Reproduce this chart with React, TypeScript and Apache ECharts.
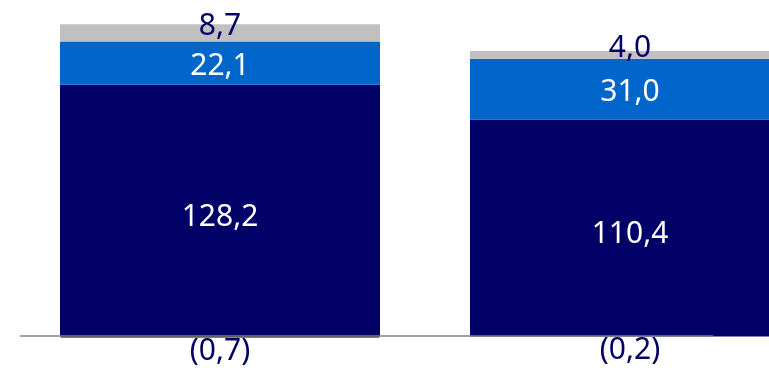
import React, { useEffect, useRef } from "react";
import * as echarts from "echarts";

const categories = ["Periodo 1", "Periodo 2"];
const baseValues = [128.2, 110.4];
const middleValues = [22.1, 31.0];
const topValues = [8.7, 4.0];
const negativeValues = [-0.7, -0.2];

const NAVY = "#000066";
const BLUE = "#0066CC";
const GREY = "#C0C0C0";
const FONT = "'Noto Sans', 'Open Sans', sans-serif";

const fmt = (v: number) => v.toFixed(1).replace(".", ",");

export default function App() {
  const ref = useRef<HTMLDivElement>(null);
  useEffect(() => {
    if (!ref.current) return;
    const chart = echarts.init(ref.current, undefined, { renderer: "svg" });
    const labelBase = { fontFamily: FONT, fontSize: 30 };
    chart.setOption({
      animation: false,
      grid: { left: 220, right: 139, top: 2.8, height: 352.8 },
      xAxis: {
        type: "category",
        data: categories,
        boundaryGap: false,
        axisLine: { show: false },
        axisTick: { show: false },
        axisLabel: { show: false },
        splitLine: { show: false },
      },
      yAxis: {
        type: "value",
        min: -10,
        max: 170,
        interval: 10,
        show: false,
        splitLine: { show: false },
      },
      series: [
        {
          type: "bar",
          name: "base",
          stack: "total",
          clip: false,
          data: baseValues,
          barWidth: 320,
          itemStyle: { color: NAVY },
          label: {
            show: true,
            position: "inside",
            offset: [0, 4],
            color: "#FFFFFF",
            ...labelBase,
            formatter: (p: any) => fmt(p.value),
          },
        },
        {
          type: "bar",
          name: "middle",
          stack: "total",
          clip: false,
          data: middleValues,
          barWidth: 320,
          itemStyle: { color: BLUE },
          label: {
            show: true,
            position: "inside",
            color: "#FFFFFF",
            ...labelBase,
            formatter: (p: any) => fmt(p.value),
          },
        },
        {
          type: "bar",
          name: "top",
          stack: "total",
          clip: false,
          data: topValues,
          barWidth: 320,
          itemStyle: { color: GREY },
          label: {
            show: true,
            position: "inside",
            offset: [0, -9],
            color: NAVY,
            ...labelBase,
            formatter: (p: any) => fmt(p.value),
          },
        },
        {
          type: "bar",
          name: "negative",
          stack: "total",
          clip: false,
          barWidth: 320,
          data: negativeValues.map((v, i) =>
            i === 0
              ? { value: v, itemStyle: { color: NAVY, borderColor: "#000000", borderWidth: 1.5 } }
              : { value: v, itemStyle: { color: NAVY } }
          ),
          label: {
            show: true,
            position: "bottom",
            distance: -1,
            color: NAVY,
            ...labelBase,
            lineHeight: 24,
            formatter: (p: any) => `(${fmt(Math.abs(p.value))})`,
          },
        },
      ],
    });
    const y0 = chart.convertToPixel({ yAxisIndex: 0 }, 0) as number;
    chart.setOption({
      graphic: [
        {
          type: "line",
          z: 100,
          shape: { x1: 20, y1: y0, x2: 713, y2: y0 },
          style: { stroke: "#808080", lineWidth: 1.5 },
        },
      ],
    });
    return () => chart.dispose();
  }, []);
  return (
    <div
      ref={ref}
      style={{ position: "fixed", left: 0, top: 0, width: 769, height: 368 }}
    />
  );
}
